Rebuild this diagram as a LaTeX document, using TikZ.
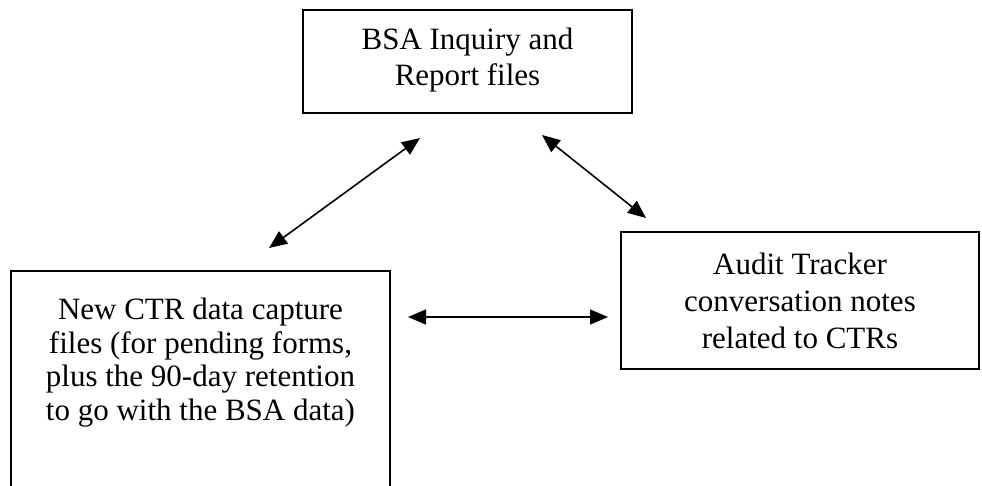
\documentclass[tikz,border=0pt]{standalone}
\usepackage{fontspec}
\setmainfont{Liberation Serif}
\usetikzlibrary{arrows.meta}
\begin{document}
\begin{tikzpicture}[x=1pt,y=-1pt,
  box/.style={draw, line width=1.7pt, inner sep=0pt, outer sep=0pt},
  txt/.style={align=center, inner sep=0pt},
  link/.style={line width=1.6pt,
    {Triangle[length=18pt,width=15pt]}-{Triangle[length=18pt,width=15pt]}}]
\useasboundingbox (0,0) rectangle (982,485);

% the three file boxes
\node[box, minimum width=329pt, minimum height=103pt] (bsa) at (467.5,61.5) {};
\node[txt, font=\fontsize{31}{36}\selectfont] (bsatext) at (467.5,60) {BSA Inquiry and\\Report files};

\node[box, anchor=north west, minimum width=379pt, minimum height=260pt] (ctr) at (11,271) {};
\node[txt, anchor=north, font=\fontsize{31}{33.5}\selectfont] (ctrtext) at (200.5,298)
  {New CTR data capture\\files (for pending forms,\\plus the 90-day retention\\to go with the BSA data)};

\node[box, minimum width=358pt, minimum height=137pt] (audit) at (800,300.5) {};
\node[txt, font=\fontsize{31}{37}\selectfont] (audittext) at (800,300.5)
  {Audit Tracker\\conversation notes\\related to CTRs};

% free ends of the double-headed connectors
\coordinate (bsaL) at (420,138);
\coordinate (ctrT) at (269,248);
\coordinate (bsaR) at (542,135);
\coordinate (auditT) at (646,218);
\coordinate (ctrR) at (408,317);
\coordinate (auditL) at (608,317);

\draw[link] (bsaL) -- (ctrT);
\draw[link] (bsaR) -- (auditT);
\draw[link] (ctrR) -- (auditL);
\end{tikzpicture}
\end{document}
